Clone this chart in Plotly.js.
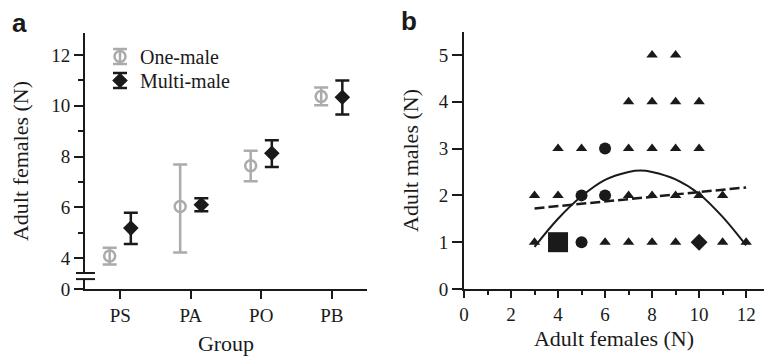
<!DOCTYPE html>
<html>
<head>
<meta charset="utf-8">
<script src="https://cdn.plot.ly/plotly-3.0.1.min.js"></script>
</head>
<body style="margin:0;background:#fff">
<div id="chart"></div>
<script>
// ---- Panel a data ----
const groups = ["PS", "PA", "PO", "PB"];
const oneMaleMean = [4.08, 6.03, 7.64, 10.37];
const oneMaleHigh = [4.41, 7.69, 8.23, 10.72];
const oneMaleLow  = [3.75, 4.22, 7.03, 10.02];
const multiMaleMean = [5.18, 6.10, 8.13, 10.34];
const multiMaleHigh = [5.79, 6.36, 8.64, 11.00];
const multiMaleLow  = [4.55, 5.84, 7.59, 9.66];
const yTickVals = [2.78, 4, 6, 8, 10, 12];
const yTickText = ["0", "4", "6", "8", "10", "12"];

// ---- Panel b data ----
const triX = [8, 9, 7, 8, 9, 10, 4, 5, 7, 8, 9, 10, 3, 4, 7, 8, 9, 10, 11, 3, 6, 7, 8, 9, 11, 12];
const triY = [5, 5, 4, 4, 4, 4, 3, 3, 3, 3, 3, 3, 2, 2, 2, 2, 2, 2, 2, 1, 1, 1, 1, 1, 1, 1];
const circX = [6, 5, 6, 5];
const circY = [3, 2, 2, 1];
const sqX = [4];
const sqY = [1];
const diaX = [10];
const diaY = [1];
const linFitX = [3, 12];
const linFitY = [1.72, 2.17];
const quadFitX = [3, 4, 5, 6, 7, 7.5, 8, 9, 10, 11, 12];
const quadFitY = [0.90, 1.50, 1.98, 2.33, 2.50, 2.53, 2.50, 2.34, 2.03, 1.54, 0.93];

const GRAY = "#ababab";
const BLACK = "#1a1a1a";
const SERIF = "Liberation Serif";
const SANS = "Liberation Sans";
const off = 0.15;

const xPos = (o) => groups.map((g, i) => i + 1 + o);
const errUp = (hi, m) => hi.map((h, i) => h - m[i]);
const errDn = (lo, m) => lo.map((l, i) => m[i] - l);

const traces = [
  {
    x: xPos(-off), y: oneMaleMean, name: "One-male", type: "scatter", mode: "markers",
    xaxis: "x", yaxis: "y", legend: "legend",
    marker: {symbol: "circle-open", size: 11, color: GRAY, line: {width: 2.5, color: GRAY}},
    error_y: {type: "data", symmetric: false, array: errUp(oneMaleHigh, oneMaleMean),
      arrayminus: errDn(oneMaleLow, oneMaleMean), color: GRAY, thickness: 2.5, width: 7}
  },
  {
    x: xPos(off), y: multiMaleMean, name: "Multi-male", type: "scatter", mode: "markers",
    xaxis: "x", yaxis: "y", legend: "legend2",
    marker: {symbol: "diamond", size: 12, color: BLACK},
    error_y: {type: "data", symmetric: false, array: errUp(multiMaleHigh, multiMaleMean),
      arrayminus: errDn(multiMaleLow, multiMaleMean), color: BLACK, thickness: 2.5, width: 7}
  },
  {
    x: quadFitX, y: quadFitY, type: "scatter", mode: "lines", showlegend: false,
    xaxis: "x2", yaxis: "y2", line: {color: BLACK, width: 2, shape: "spline", smoothing: 1}
  },
  {
    x: linFitX, y: linFitY, type: "scatter", mode: "lines", showlegend: false,
    xaxis: "x2", yaxis: "y2", line: {color: BLACK, width: 2.5, dash: "10px,4px"}
  },
  {
    x: triX, y: triY, type: "scatter", mode: "markers", showlegend: false,
    xaxis: "x2", yaxis: "y2", marker: {symbol: "triangle-up", size: 10, color: BLACK}
  },
  {
    x: circX, y: circY, type: "scatter", mode: "markers", showlegend: false,
    xaxis: "x2", yaxis: "y2", marker: {symbol: "circle", size: 12, color: BLACK}
  },
  {
    x: sqX, y: sqY, type: "scatter", mode: "markers", showlegend: false,
    xaxis: "x2", yaxis: "y2", marker: {symbol: "square", size: 20, color: BLACK}
  },
  {
    x: diaX, y: diaY, type: "scatter", mode: "markers", showlegend: false,
    xaxis: "x2", yaxis: "y2", marker: {symbol: "diamond", size: 13, color: BLACK}
  }
];

const W = 764, H = 356;
const px = (v) => v / W;
const py = (v) => (H - v) / H;

const tickFont = {family: SERIF, size: 19, color: BLACK};
const titleFont = {family: SERIF, size: 22, color: BLACK};
const legendFont = {family: SERIF, size: 20, color: BLACK};
const axBase = {
  showline: true, linecolor: BLACK, linewidth: 2, ticks: "outside", tickwidth: 2,
  tickcolor: BLACK, showgrid: false, zeroline: false, automargin: false,
  tickfont: tickFont
};

// legend error-bar glyphs (paper coords)
const legendGlyph = (cx, cy, half, color) => [
  {type: "line", xref: "paper", yref: "paper", x0: px(cx), x1: px(cx), y0: py(cy - half), y1: py(cy + half),
    line: {color: color, width: 2.5}, layer: "below"},
  {type: "line", xref: "paper", yref: "paper", x0: px(cx - 7), x1: px(cx + 7), y0: py(cy - half), y1: py(cy - half),
    line: {color: color, width: 2.5}, layer: "below"},
  {type: "line", xref: "paper", yref: "paper", x0: px(cx - 7), x1: px(cx + 7), y0: py(cy + half), y1: py(cy + half),
    line: {color: color, width: 2.5}, layer: "below"}
];

const layout = {
  width: W, height: H,
  margin: {l: 0, r: 0, t: 0, b: 0},
  paper_bgcolor: "#fff", plot_bgcolor: "rgba(0,0,0,0)",
  font: {family: SERIF, size: 19, color: BLACK},
  showlegend: true,
  legend: {x: px(100), y: py(37), xanchor: "left", yanchor: "top",
    font: legendFont, bgcolor: "rgba(0,0,0,0)"},
  legend2: {x: px(100), y: py(61), xanchor: "left", yanchor: "top",
    font: legendFont, bgcolor: "rgba(0,0,0,0)"},
  xaxis: Object.assign({}, axBase, {
    domain: [px(85), px(367)], range: [0.5, 4.5], anchor: "y",
    tickmode: "array", tickvals: groups.map((g, i) => i + 1), ticktext: groups, ticklen: 8,
    title: {text: "Group", font: titleFont, standoff: 12}
  }),
  yaxis: Object.assign({}, axBase, {
    domain: [py(289), py(33)], range: [2.78, 12.87], anchor: "x",
    tickmode: "array", tickvals: yTickVals, ticktext: yTickText, ticklen: 9,
    minor: {tickvals: [5, 7, 9, 11], ticks: "outside", ticklen: 5, tickwidth: 2, tickcolor: BLACK, showgrid: false},
    title: {text: "Adult females (N)", font: titleFont, standoff: 17}
  }),
  xaxis2: Object.assign({}, axBase, {
    domain: [px(464), px(764)], range: [0, 12.76], anchor: "y2",
    tickmode: "array", tickvals: [0, 2, 4, 6, 8, 10, 12], ticklen: 7,
    minor: {tickvals: [1, 3, 5, 7, 9, 11], ticks: "outside", ticklen: 4, tickwidth: 2, tickcolor: BLACK, showgrid: false},
    title: {text: "Adult females (N)", font: titleFont, standoff: 7}
  }),
  yaxis2: Object.assign({}, axBase, {
    domain: [py(289), py(32)], range: [0, 5.49], anchor: "x2",
    tickmode: "array", tickvals: [0, 1, 2, 3, 4, 5], ticklen: 10,
    title: {text: "Adult males (N)", font: titleFont, standoff: 14}
  }),
  shapes: [
    // axis break on panel a
    {type: "rect", xref: "paper", yref: "y", x0: px(80), x1: px(90), y0: 3.19, y1: 3.39,
      fillcolor: "#fff", line: {width: 0}, layer: "above"},
    {type: "line", xref: "paper", yref: "y", x0: px(76), x1: px(95), y0: 3.41, y1: 3.41,
      line: {color: BLACK, width: 2}, layer: "above"},
    {type: "line", xref: "paper", yref: "y", x0: px(76), x1: px(95), y0: 3.17, y1: 3.17,
      line: {color: BLACK, width: 2}, layer: "above"}
  ],
  annotations: [
    {text: "<b>a</b>", xref: "paper", yref: "paper", x: px(10), y: py(23), xanchor: "left", yanchor: "middle",
      showarrow: false, font: {family: SANS, size: 26, color: BLACK}},
    {text: "<b>b</b>", xref: "paper", yref: "paper", x: px(399), y: py(21), xanchor: "left", yanchor: "middle",
      showarrow: false, font: {family: SANS, size: 26, color: BLACK}}
  ]
};

Plotly.newPlot("chart", traces, layout, {displayModeBar: false}).then(function (gd) {
  // place error-bar glyphs behind the legend markers
  const svgBox = gd.querySelector(".main-svg").getBoundingClientRect();
  const extra = [];
  gd.querySelectorAll(".legendpoints path").forEach(function (pt) {
    const b = pt.getBoundingClientRect();
    const cx = b.left + b.width / 2 - svgBox.left;
    const cy = b.top + b.height / 2 - svgBox.top;
    const isGray = (pt.style.stroke || "").indexOf("171") >= 0 || (pt.style.fill || "") === "none"
      || (pt.style.fill || "").indexOf("rgba(0, 0, 0, 0)") >= 0;
    extra.push.apply(extra, legendGlyph(cx, cy, 7.5, isGray ? GRAY : BLACK));
  });
  Plotly.relayout(gd, {shapes: layout.shapes.concat(extra)});
});
</script>
</body>
</html>
